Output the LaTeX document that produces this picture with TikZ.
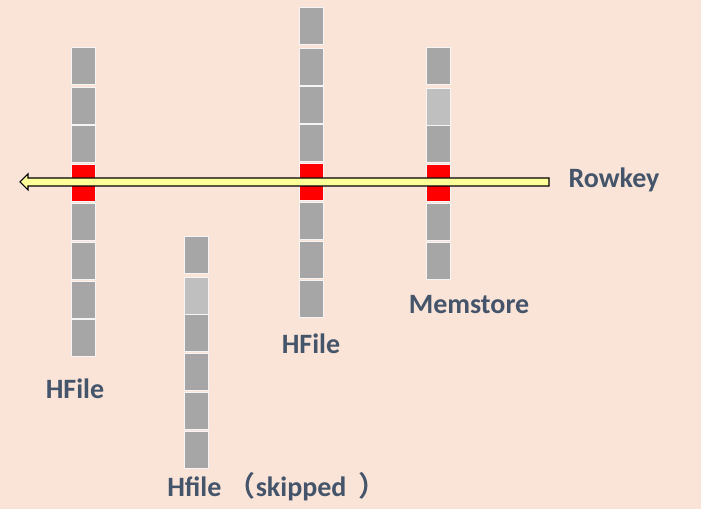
\documentclass[tikz,border=0pt]{standalone}
\usepackage{fontspec}
\setmainfont{Carlito}
\newfontfamily\cjkfont{Noto Sans CJK SC}[BoldFont={Noto Sans CJK SC Bold}]
\usetikzlibrary{positioning, calc}
\definecolor{PaperBg}{HTML}{FAE4D7}
\definecolor{CellGray}{HTML}{A6A6A6}
\definecolor{CellLight}{HTML}{BFBFBF}
\definecolor{HitRed}{HTML}{FF0000}
\definecolor{LabelBlue}{HTML}{44546A}
\definecolor{KeyYellow}{HTML}{FFFF99}

\begin{document}
\begin{tikzpicture}[
        x=0.75pt, y=-0.75pt,
        cell/.style={rectangle, draw=white!92!gray, line width=0.6pt, fill=CellGray, minimum width=18pt, minimum height=27.75pt, inner sep=0pt},
        tag/.style={anchor=base, inner sep=0pt, font=\fontsize{21}{24}\selectfont\bfseries, text=LabelBlue},
        rowarrow/.style={draw=black, fill=KeyYellow, line width=0.8pt, line join=miter}
    ]
        % Background
        \fill[PaperBg] (0,0) rectangle (701,509);
        \useasboundingbox (0,0) rectangle (701,509);

        % HFile (left)
        \foreach \t/\c [count=\i] in {47/CellGray, 87/CellGray, 125/CellGray, 164/HitRed, 203/CellGray, 242/CellGray, 281/CellGray, 319/CellGray}
            \node (left\i) [cell, fill=\c] at (83,{\t+18.5}) {};
        % Hfile (skipped)
        \foreach \t/\c [count=\i] in {236/CellGray, 277/CellLight, 314/CellGray, 353/CellGray, 392/CellGray, 431/CellGray}
            \node (skip\i) [cell, fill=\c] at (196.5,{\t+18.5}) {};
        % HFile (middle)
        \foreach \t/\c [count=\i] in {7/CellGray, 48/CellGray, 86/CellGray, 124/CellGray, 163/HitRed, 202/CellGray, 241/CellGray, 280/CellGray}
            \node (mid\i) [cell, fill=\c] at (311,{\t+18.5}) {};
        % Memstore
        \foreach \t/\c [count=\i] in {47/CellGray, 88/CellLight, 125/CellGray, 164/HitRed, 203/CellGray, 242/CellGray}
            \node (mem\i) [cell, fill=\c] at (438,{\t+18.5}) {};

        % Rowkey arrow
        \coordinate (keytail) at (549,182);
        \coordinate (keytip) at (20,182);
        \draw [rowarrow] (keytail) ++(0,-4) -- ($(keytip)+(8,-4)$) -- ++(0,-4) -- (keytip)
            -- ($(keytip)+(8,8)$) -- ++(0,-4) -- ($(keytail)+(0,4)$) -- cycle;

        % Labels
        \node (rowkey) [tag] at (614,187.7) {Rowkey};
        \node (leftlbl) [tag] at (75,398.3) {HFile};
        \node (midlbl) [tag] at (311,353.3) {HFile};
        \node (memlbl) [tag] at (469,314) {Memstore};
        \node (skiplbl) [tag, anchor=base west] at (167,497) {Hfile {\cjkfont （}skipped\hspace{9pt}{\cjkfont ）}};
    \end{tikzpicture}
\end{document}
